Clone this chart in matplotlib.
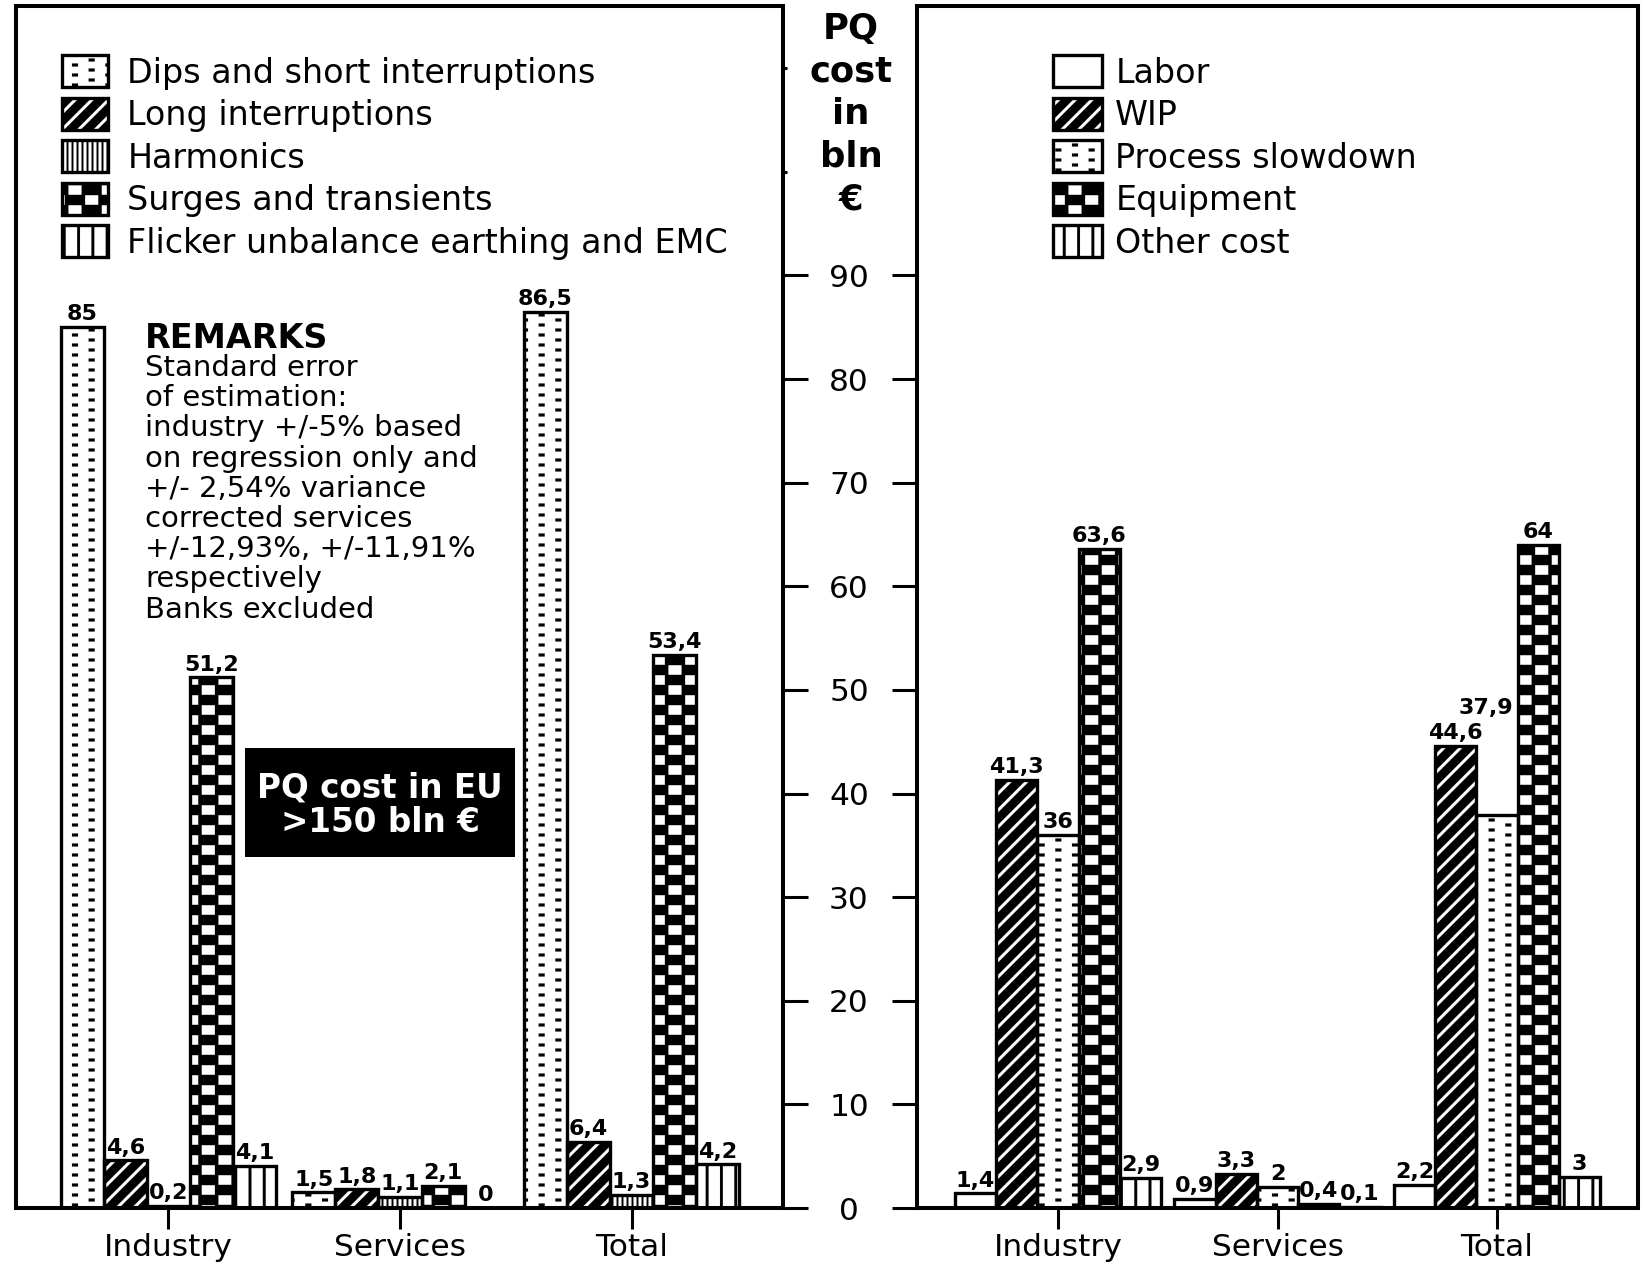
import warnings
import numpy as np
import matplotlib
matplotlib.use("Agg")
import matplotlib.pyplot as plt
from matplotlib import hatch as mhatch
from matplotlib.path import Path
from matplotlib.patches import Patch, Rectangle
from matplotlib.legend_handler import HandlerTuple

warnings.filterwarnings("ignore")

# ---------------------------------------------------------------- data
groups = ["Industry", "Services", "Total"]

pq_types = ["Dips and short interruptions", "Long interruptions", "Harmonics",
            "Surges and transients", "Flicker unbalance earthing and EMC"]
dips = [85, 1.5, 86.5]
long_interruptions = [4.6, 1.8, 6.4]
harmonics = [0.2, 1.1, 1.3]
surges = [51.2, 2.1, 53.4]
flicker = [4.1, 0, 4.2]

cost_types = ["Labor", "WIP", "Process slowdown", "Equipment", "Other cost"]
labor = [1.4, 0.9, 2.2]
wip = [41.3, 3.3, 44.6]
slowdown = [36, 2, 37.9]
equipment = [63.6, 0.4, 64]
other_cost = [2.9, 0.1, 3]

y_ticks = [0, 10, 20, 30, 40, 50, 60, 70, 80, 90]
y_minor = [100, 110]

remarks = ["Standard error", "of estimation:", "industry +/-5% based",
           "on regression only and", "+/- 2,54% variance", "corrected services",
           "+/-12,93%, +/-11,91%", "respectively", "Banks excluded"]

# ---------------------------------------------------------------- fill patterns
plt.rcParams["hatch.linewidth"] = 0.1
plt.rcParams["font.family"] = ["DejaVu Sans"]


def _rect(x0, y0, w, h):
    return [(x0, y0), (x0 + w, y0), (x0 + w, y0 + h), (x0, y0 + h)]


def _dashes():
    ncol, nrow = 6, 10
    out = []
    for i in range(ncol):
        for j in range(-1, nrow + 1):
            xc = (i + 0.5) / ncol
            yc = (j + 0.5 + 0.5 * (i % 2)) / nrow
            out.append(_rect(xc - 0.03, yc - 0.015, 0.06, 0.03))
    return out


def _stripes():
    n, w = 6, 0.122
    out = []
    for k in range(-n - 1, n + 2):
        o = k / n
        out.append([(o - w / 2, 0), (o + w / 2, 0), (o + 1 + w / 2, 1), (o + 1 - w / 2, 1)])
    return out


def _fine_lines():
    n, w = 20, 0.018
    return [_rect((i + 0.5) / n - w / 2, -0.1, w, 1.2) for i in range(n)]


def _squares():
    ncol, nrow, sw, sh = 6, 5, 0.13, 0.095
    out = []
    for i in range(ncol):
        for j in range(-1, nrow + 1):
            xc = (i + 0.5) / ncol
            yc = (j + 0.5 + 0.5 * (i % 2)) / nrow
            out.append(_rect(xc - sw / 2, yc - sh / 2, sw, sh))
    return out


def _wide_lines():
    n, w = 7, 0.028
    return [_rect((i + 0.5) / n - w / 2, -0.1, w, 1.2) for i in range(n)]


class ShapeHatch(mhatch.HatchPatternBase):
    """Hatch made of filled polygons in the unit hatch cell."""
    builders = {"d": _dashes, "z": _stripes, "v": _fine_lines,
                "c": _squares, "f": _wide_lines}

    def __init__(self, hatch, density):
        self.polys = []
        for ch, fn in self.builders.items():
            if ch in hatch:
                self.polys.extend(fn())
        self.num_vertices = sum(len(p) + 1 for p in self.polys)

    def set_vertices_and_codes(self, vertices, codes):
        i = 0
        for p in self.polys:
            n = len(p)
            vertices[i:i + n] = p
            vertices[i + n] = p[0]
            codes[i] = Path.MOVETO
            codes[i + 1:i + n] = Path.LINETO
            codes[i + n] = Path.CLOSEPOLY
            i += n + 1


mhatch._hatch_types.append(ShapeHatch)

# (face colour, pattern colour, pattern)
pq_styles = [("white", "black", "d"), ("white", "black", "z"), ("white", "black", "v"),
             ("black", "white", "c"), ("white", "black", "f")]
cost_styles = [("white", "black", None), ("white", "black", "z"), ("white", "black", "d"),
               ("black", "white", "c"), ("white", "black", "f")]

EDGE_LW = 2.4
SPINE_LW = 2.9
FS = 22.5
LEG_FS = 24
LABEL_FS = 16


def fmt(v):
    return f"{v:g}".replace(".", ",")


def draw_panel(ax, series, styles, width, label_shift=None):
    label_shift = label_shift or {}
    x = np.arange(len(groups))
    handles = []
    for i, (vals, (face, pcol, hatch)) in enumerate(zip(series, styles)):
        pos = x + (i - 2) * width
        ax.bar(pos, vals, width, color=face, edgecolor=pcol, linewidth=0,
               hatch=hatch, zorder=2)
        ax.bar(pos, vals, width, facecolor="none", edgecolor="black",
               linewidth=EDGE_LW, zorder=3)
        for g, (px, v) in enumerate(zip(pos, vals)):
            dx, dy = label_shift.get((i, g), (0, 2))
            ax.annotate(fmt(v), (px, v), xytext=(dx, dy), textcoords="offset points",
                        ha="center", va="bottom", fontsize=LABEL_FS,
                        fontweight="bold", zorder=4)
        handles.append((Patch(facecolor=face, edgecolor=pcol, linewidth=0, hatch=hatch),
                        Patch(facecolor="none", edgecolor="black", linewidth=EDGE_LW)))
    ax.set_xticks(x, groups)
    ax.set_ylim(0, 116)
    for s in ax.spines.values():
        s.set_linewidth(SPINE_LW)
    ax.tick_params(axis="x", direction="out", length=15, width=2.2, pad=3, labelsize=FS)
    return handles


W_PX, H_PX = 1647, 1264
fig = plt.figure(figsize=(W_PX / 100, H_PX / 100), dpi=100)
ax1 = fig.add_axes([16 / W_PX, 1 - 1208 / H_PX, 767 / W_PX, 1202 / H_PX])
ax2 = fig.add_axes([917 / W_PX, 1 - 1208 / H_PX, 721 / W_PX, 1202 / H_PX])

legend_kw = dict(loc="upper left", frameon=False, fontsize=LEG_FS, handleheight=1.1,
                 labelspacing=0.245, borderpad=0, borderaxespad=0,
                 handler_map={tuple: HandlerTuple(ndivide=1, pad=0)})

# ---------------------------------------------------------------- left: by disturbance
h1 = draw_panel(ax1, [dips, long_interruptions, harmonics, surges, flicker],
                pq_styles, 0.186)
ax1.set_xlim(-0.658, 2.654)
ax1.yaxis.tick_right()
ax1.set_yticks(y_ticks)
ax1.set_yticks(y_minor, minor=True)
ax1.tick_params(axis="y", which="major", direction="out", length=18, width=2.2,
                labelright=False)
ax1.tick_params(axis="y", which="minor", direction="out", length=3, width=2.2,
                labelright=False)

ax1.legend(h1, pq_types, bbox_to_anchor=(0.06, 0.959), handlelength=1.38,
           handletextpad=0.58, **legend_kw)

# remarks block
fig.text(145 / W_PX, 1 - 348 / H_PX, "REMARKS", fontsize=24, fontweight="bold",
         va="baseline", ha="left")
for k, line in enumerate(remarks):
    fig.text(145 / W_PX, 1 - (376 + 30.2 * k) / H_PX, line, fontsize=21,
             va="baseline", ha="left")

# total cost box
ax1.add_patch(Rectangle((0.2986, 0.292), 0.352, 0.0907, transform=ax1.transAxes,
                        facecolor="black", edgecolor="none", zorder=5))
ax1.text(0.4746, 0.3348, "PQ cost in EU\n>150 bln €", transform=ax1.transAxes,
         color="white", fontsize=23.5, fontweight="bold", ha="center", va="center",
         multialignment="center", linespacing=1.06, zorder=6)

# ---------------------------------------------------------------- right: by cost type
h2 = draw_panel(ax2, [labor, wip, slowdown, equipment, other_cost], cost_styles,
                0.188, label_shift={(2, 2): (-8, 70)})
ax2.set_xlim(-0.642, 2.642)
ax2.set_yticks(y_ticks)
ax2.tick_params(axis="y", direction="out", length=18, width=2.2, pad=31, labelsize=FS)
for lab in ax2.get_yticklabels():
    lab.set_horizontalalignment("center")

ax2.legend(h2, cost_types, bbox_to_anchor=(0.1886, 0.959), handlelength=1.47,
           handletextpad=0.4, **legend_kw)

# shared axis title between the panels
for k, word in enumerate(["PQ", "cost", "in", "bln", "€"]):
    fig.text(851 / W_PX, 1 - (39 + 42.5 * k) / H_PX, word, fontsize=25.5,
             fontweight="bold", ha="center", va="baseline")

fig.savefig("out.png", dpi=100)
